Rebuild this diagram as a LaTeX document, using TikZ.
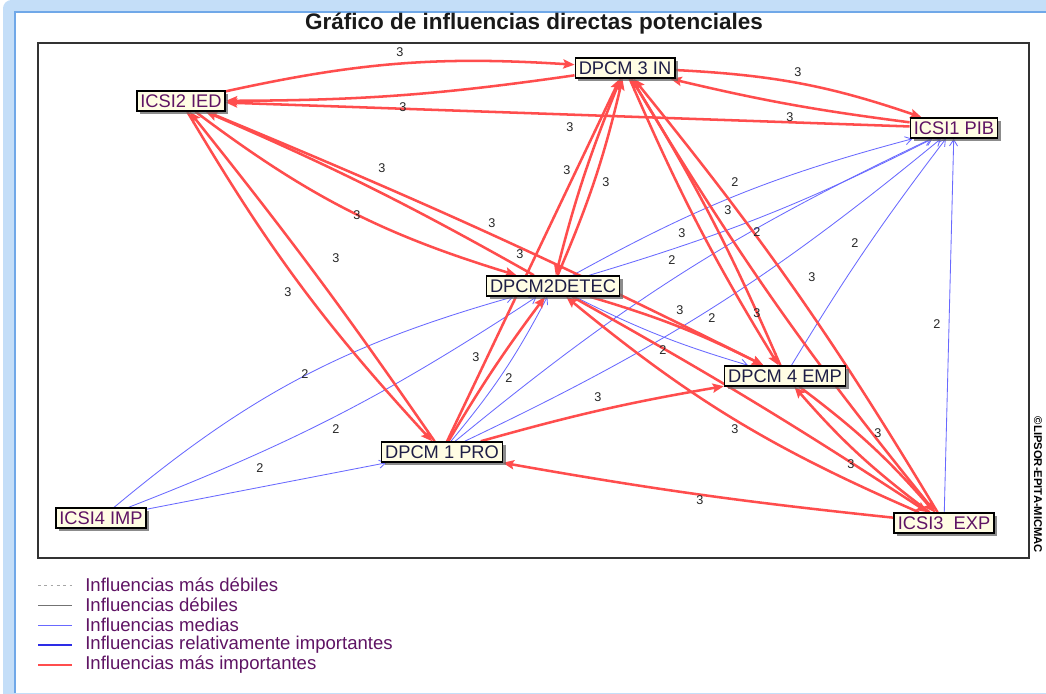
\documentclass[tikz,border=0pt]{standalone}
\usepackage{fontspec}
\setmainfont{Liberation Sans}
\usetikzlibrary{arrows.meta, positioning, shadows, backgrounds}
\definecolor{micred}{RGB}{255,77,77}
\definecolor{micblue}{RGB}{105,105,255}
\definecolor{relblue}{RGB}{45,45,230}
\definecolor{boxcream}{RGB}{255,253,228}
\definecolor{varpurple}{RGB}{95,20,100}
\definecolor{varnavy}{RGB}{30,30,70}
\definecolor{winblue}{RGB}{196,222,248}
\definecolor{winedge}{RGB}{112,168,232}

\begin{document}
\begin{tikzpicture}[
    x=0.025cm, y=-0.025cm,
    varbox/.style={rectangle, draw=black, line width=1.1pt, fill=boxcream, inner xsep=2.5pt, inner ysep=0pt, minimum height=0.5cm, font=\fontsize{13}{14}\selectfont, drop shadow={shadow xshift=0.08cm, shadow yshift=-0.08cm, fill=black!60, opacity=0.75}},
    icsi/.style={varbox, text=varpurple},
    dpcm/.style={varbox, text=varnavy},
    strong/.style={-{Stealth[length=2.8mm, width=2.3mm, inset=0.5mm]}, line width=1.8pt, micred},
    medium/.style={-{Straight Barb[length=1.6mm, width=2mm]}, line width=0.6pt, micblue},
    lbl/.style={font=\fontsize{9}{10}\selectfont, text=black!85, inner sep=0pt},
    legtext/.style={anchor=west, font=\fontsize{13.2}{15}\selectfont, text=varpurple, inner sep=0pt}
]
    \useasboundingbox (0,0) rectangle (1046,693);

    % variables
    \node[icsi] (ied) at (181,101) {ICSI2 IED};
    \node[dpcm] (in) at (625,68) {DPCM 3 IN};
    \node[icsi] (pib) at (954,128) {ICSI1 PIB};
    \node[dpcm] (detec) at (553,286) {DPCM2DETEC};
    \node[dpcm] (emp) at (785,376) {DPCM 4 EMP};
    \node[dpcm] (pro) at (442,452) {DPCM 1 PRO};
    \node[icsi] (imp) at (101,518) {ICSI4 IMP};
    \node[icsi] (exp) at (944,523) {ICSI3~~EXP};

    \node[font=\fontsize{16}{18}\selectfont\bfseries, text=black!90] (title) at (534,24) {Gráfico de influencias directas potenciales};
    \node[font=\fontsize{8}{9}\selectfont\bfseries, rotate=-90, inner sep=0pt] (copy) at (1038,485) {©LIPSOR-EPITA-MICMAC};

    \begin{scope}[on background layer]
        \fill[white] (0,0) rectangle (1046,693);
        \fill[winblue, rounded corners=6] (3,0) rectangle (1070,720);
        \fill[white] (15,12) rectangle (1046,693);
        \draw[winedge, line width=0.8pt] (15,693) -- (15,12) -- (1046,12);
        \draw[black!80, line width=1.2pt] (38,43) rectangle (1029,558);
    \end{scope}

    \begin{scope}[on background layer]
    % influencias medias
    \draw[medium] (imp) -- (pro);
    \draw[medium] (imp) to[bend left=12] (detec);
    \draw[medium] (imp) to[bend right=6] (detec);
    \draw[medium] (pro) to[bend right=6] (detec);
    \draw[medium] (detec) to[bend left=7] (pib);
    \draw[medium] (detec) to[bend right=5] (pib);
    \draw[medium] (pro) to[bend left=7] (pib);
    \draw[medium] (pro) to[bend right=7] (pib);
    \draw[medium] (emp) to[bend left=3] (pib);
    \draw[medium] (exp) -- (pib);
    \draw[medium] (detec) to[bend right=5] (emp);

    % influencias mas importantes
    \draw[strong] (ied) to[bend left=8] (in);
    \draw[strong] (in) to[bend left=4] (ied);
    \draw[strong] (pib) -- (ied);
    \draw[strong] (in) to[bend left=8] (pib);
    \draw[strong] (pib) to[bend left=3] (in);
    \draw[strong] (ied) to[bend right=10] (detec);
    \draw[strong] (detec) to[bend right=3] (ied);
    \draw[strong] (ied) to[bend right=6] (pro);
    \draw[strong] (pro) to[bend right=2] (ied);
    \draw[strong] (in) to[bend right=4] (detec);
    \draw[strong] (detec) to[bend right=5] (in);
    \draw[strong] (pro) -- (in);
    \draw[strong] (ied) to[bend left=2] (emp);
    \draw[strong] (detec) to[bend left=5] (emp);
    \draw[strong] (pro) to[bend left=3] (detec);
    \draw[strong] (in) to[bend right=4] (emp);
    \draw[strong] (emp) to[bend right=4] (in);
    \draw[strong] (in) to[bend right=4] (exp);
    \draw[strong] (exp) to[bend right=4] (in);
    \draw[strong] (pro) to[bend left=3] (emp);
    \draw[strong] (exp) to[bend left=8] (detec);
    \draw[strong] (detec) to[bend left=2] (exp);
    \draw[strong] (emp) to[bend left=6] (exp);
    \draw[strong] (exp) to[bend left=6] (emp);
    \draw[strong] (exp) to[bend left=2] (pro);
    \end{scope}

    % valores
    \node[lbl] (v1) at (400,52) {3};
    \node[lbl] (v2) at (403,107) {3};
    \node[lbl] (v3) at (570,127) {3};
    \node[lbl] (v4) at (798,72) {3};
    \node[lbl] (v5) at (790,117) {3};
    \node[lbl] (v6) at (382,168) {3};
    \node[lbl] (v7) at (357,215) {3};
    \node[lbl] (v8) at (492,223) {3};
    \node[lbl] (v9) at (520,254) {3};
    \node[lbl] (v10) at (567,170) {3};
    \node[lbl] (v11) at (606,182) {3};
    \node[lbl] (v12) at (336,258) {3};
    \node[lbl] (v13) at (288,292) {3};
    \node[lbl] (v14) at (476,357) {3};
    \node[lbl] (v15) at (680,310) {3};
    \node[lbl] (v16) at (682,233) {3};
    \node[lbl] (v17) at (728,210) {3};
    \node[lbl] (v18) at (757,313) {3};
    \node[lbl] (v19) at (812,277) {3};
    \node[lbl] (v20) at (598,397) {3};
    \node[lbl] (v21) at (735,429) {3};
    \node[lbl] (v22) at (878,433) {3};
    \node[lbl] (v23) at (851,464) {3};
    \node[lbl] (v24) at (700,500) {3};
    \node[lbl] (w1) at (735,182) {2};
    \node[lbl] (w2) at (757,232) {2};
    \node[lbl] (w3) at (672,260) {2};
    \node[lbl] (w4) at (855,243) {2};
    \node[lbl] (w5) at (937,324) {2};
    \node[lbl] (w6) at (712,318) {2};
    \node[lbl] (w7) at (663,350) {2};
    \node[lbl] (w8) at (509,378) {2};
    \node[lbl] (w9) at (305,374) {2};
    \node[lbl] (w10) at (336,429) {2};
    \node[lbl] (w11) at (260,468) {2};

    % leyenda
    \draw[black!35, line width=0.5pt, dash pattern=on 2pt off 2.5pt] (38,585) -- (72,585);
    \draw[black!55, line width=0.6pt] (38,605) -- (72,605);
    \draw[micblue, line width=0.6pt] (38,625) -- (72,625);
    \draw[relblue, line width=1.3pt] (38,645) -- (72,645);
    \draw[micred, line width=1.8pt] (38,665) -- (72,665);
    \node[legtext] (leg1) at (85,585) {Influencias más débiles};
    \node[legtext] (leg2) at (85,605) {Influencias débiles};
    \node[legtext] (leg3) at (85,625) {Influencias medias};
    \node[legtext] (leg4) at (85,645) {Influencias relativamente importantes};
    \node[legtext] (leg5) at (85,665) {Influencias más importantes};
\end{tikzpicture}
\end{document}
